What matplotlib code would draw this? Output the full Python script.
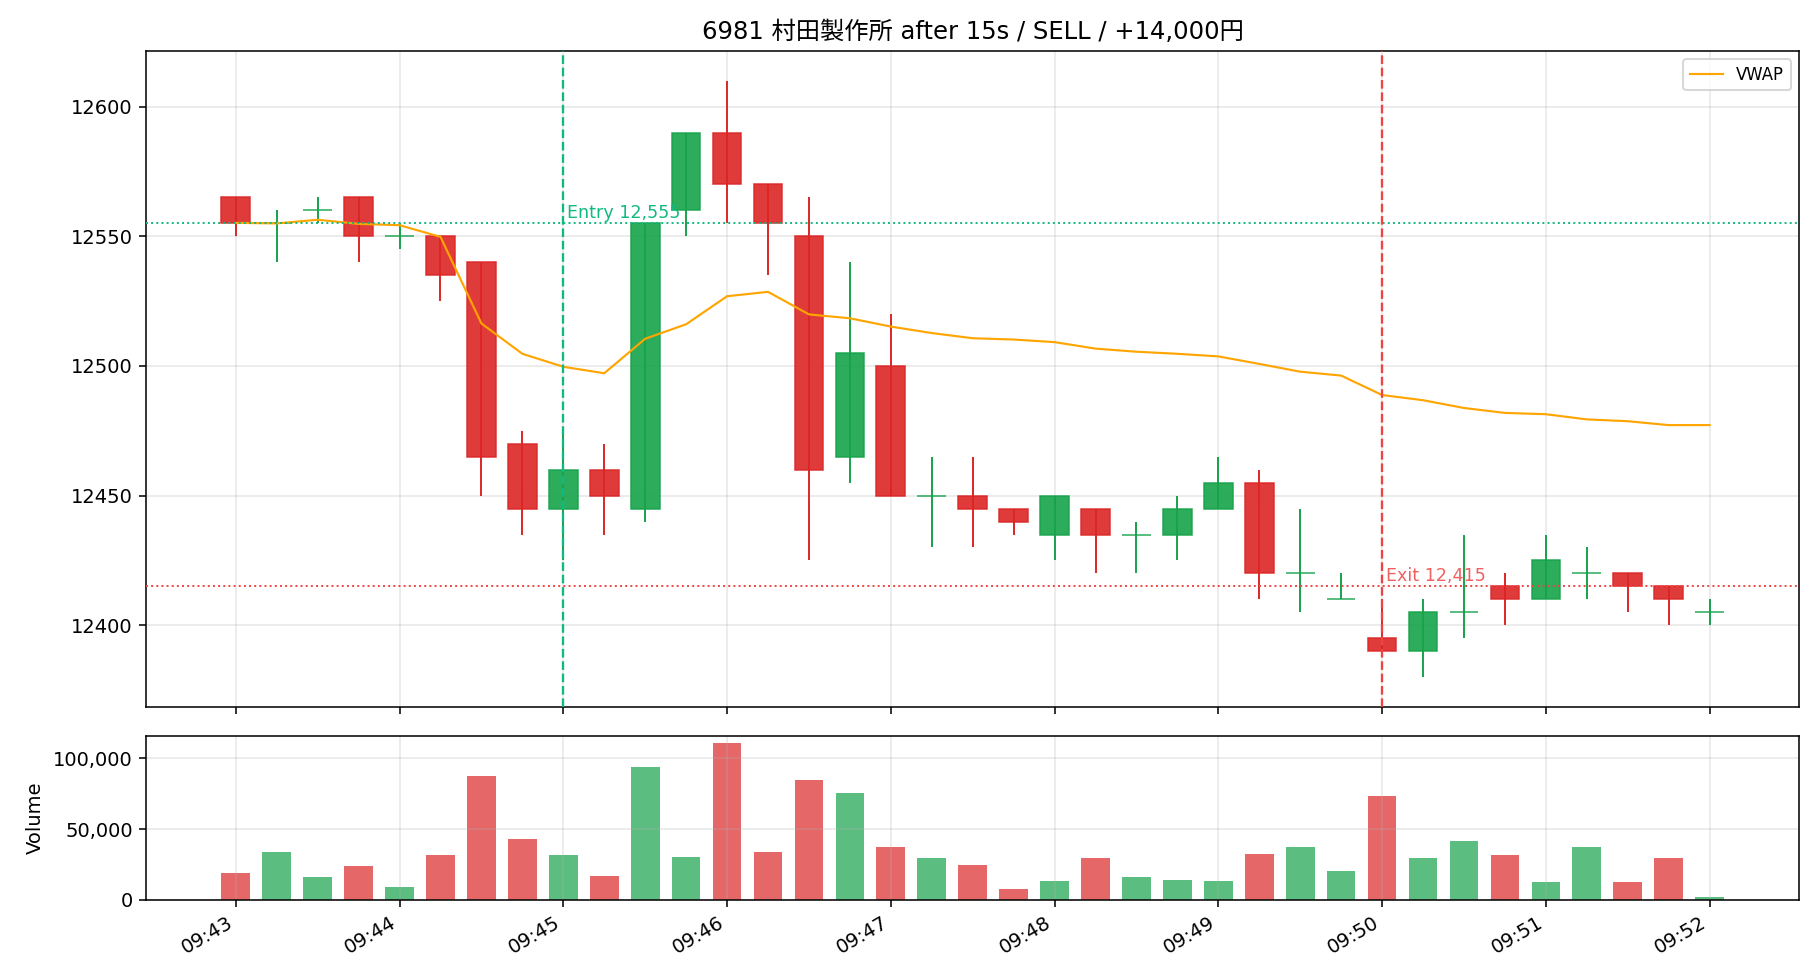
import numpy as np
import pandas as pd
import matplotlib
matplotlib.use('Agg')
import matplotlib.pyplot as plt
import matplotlib.dates as mdates
from matplotlib.ticker import FuncFormatter

plt.rcParams['font.family'] = ['DejaVu Sans', 'Noto Sans CJK JP']
plt.rcParams['axes.unicode_minus'] = False

# 15秒足 09:43:00 - 09:52:00
times = pd.date_range('2024-01-01 09:43:00', periods=37, freq='15s')

opens = [12565, 12555, 12560, 12565, 12550, 12550, 12540, 12470, 12445, 12460,
         12445, 12560, 12590, 12570, 12550, 12465, 12500, 12450, 12450, 12445,
         12435, 12445, 12435, 12435, 12445, 12455, 12420, 12410, 12395, 12390,
         12405, 12415, 12410, 12420, 12420, 12415, 12405]
highs = [12565, 12560, 12565, 12565, 12555, 12550, 12540, 12475, 12475, 12470,
         12555, 12590, 12610, 12570, 12565, 12540, 12520, 12465, 12465, 12445,
         12450, 12445, 12440, 12450, 12465, 12460, 12445, 12420, 12410, 12410,
         12435, 12420, 12435, 12430, 12420, 12415, 12410]
lows = [12550, 12540, 12555, 12540, 12545, 12525, 12450, 12435, 12425, 12435,
        12440, 12550, 12555, 12535, 12425, 12455, 12450, 12430, 12430, 12435,
        12425, 12420, 12420, 12425, 12445, 12410, 12405, 12410, 12390, 12380,
        12395, 12400, 12410, 12410, 12405, 12400, 12400]
closes = [12555, 12555, 12560, 12550, 12550, 12535, 12465, 12445, 12460, 12450,
          12555, 12590, 12570, 12555, 12460, 12505, 12450, 12450, 12445, 12440,
          12450, 12435, 12435, 12445, 12455, 12420, 12420, 12410, 12390, 12405,
          12405, 12410, 12425, 12420, 12415, 12410, 12405]
volumes = [18600, 33500, 15800, 23600, 8700, 31400, 87300, 42700, 31400, 16500,
           93600, 30000, 110600, 33500, 84400, 75200, 37000, 29200, 24300, 7300,
           13000, 29200, 15800, 13700, 13000, 32100, 37000, 20000, 73100, 29200,
           41300, 31400, 12300, 37000, 12300, 29200, 1700]
vwap = [12555.2, 12555.0, 12556.4, 12554.8, 12554.3, 12549.8, 12516.4, 12504.7,
        12499.7, 12497.2, 12510.5, 12516.1, 12526.9, 12528.6, 12519.9, 12518.4,
        12515.2, 12512.7, 12510.7, 12510.2, 12509.2, 12506.7, 12505.5, 12504.7,
        12503.7, 12500.8, 12497.8, 12496.3, 12488.8, 12486.8, 12483.8, 12481.9,
        12481.4, 12479.4, 12478.7, 12477.2, 12477.2]

entry_time = pd.Timestamp('2024-01-01 09:45:00')
entry_price = 12555
exit_time = pd.Timestamp('2024-01-01 09:50:00')
exit_price = 12415
title = '6981 村田製作所 after 15s / SELL / +14,000円'

UP = '#16a34a'
DOWN = '#dc2626'

o = np.array(opens)
c = np.array(closes)
colors = np.where(c >= o, UP, DOWN)
x = mdates.date2num(times)
w = 0.7 * 15 / 86400

fig, (ax, ax2) = plt.subplots(2, 1, figsize=(13, 7), dpi=140, sharex=True,
                              gridspec_kw={'height_ratios': [4, 1]})
fig.subplots_adjust(left=0.0804, right=0.9885, top=0.948, bottom=0.082, hspace=0.07)

# ローソク足
ax.bar(x, c - o, bottom=o, width=w, color=colors, edgecolor=colors,
       linewidth=0.8, alpha=0.9, zorder=2)
ax.vlines(x, lows, highs, colors=colors, linewidth=1.0, zorder=3)
ax.plot(x, vwap, color='orange', linewidth=1.1, label='VWAP', zorder=4)

# エントリー / イグジット
ax.axvline(mdates.date2num(entry_time), color='#10b981', linestyle='--', linewidth=1.2, zorder=5)
ax.axhline(entry_price, color='#10b981', linestyle=':', linewidth=1.0, zorder=5)
ax.annotate(f'Entry {entry_price:,}', (mdates.date2num(entry_time), entry_price),
            xytext=(2, 0.5), textcoords='offset points', color='#10b981',
            fontsize=9, va='bottom', ha='left', zorder=6)
ax.axvline(mdates.date2num(exit_time), color='#ef4444', linestyle='--', linewidth=1.2, zorder=5)
ax.axhline(exit_price, color='#ef4444', linestyle=':', linewidth=1.0, zorder=5)
ax.annotate(f'Exit {exit_price:,}', (mdates.date2num(exit_time), exit_price),
            xytext=(2, 0.5), textcoords='offset points', color='#ef4444',
            fontsize=9, va='bottom', ha='left', alpha=0.85, zorder=6)

ax.set_title(title, fontsize=12.5)
ax.grid(True, alpha=0.3)
ax.legend(loc='upper right', fontsize=8.5)

# 出来高
ax2.bar(x, volumes, width=w, color=colors, alpha=0.7)
ax2.set_ylabel('Volume')
ax2.grid(True, alpha=0.3)
ax2.yaxis.set_major_formatter(FuncFormatter(lambda v, p: f'{v:,.0f}'))
ax2.xaxis.set_major_locator(mdates.MinuteLocator())
ax2.xaxis.set_major_formatter(mdates.DateFormatter('%H:%M'))
plt.setp(ax2.get_xticklabels(), rotation=30, ha='right')

fig.savefig('out.png')
